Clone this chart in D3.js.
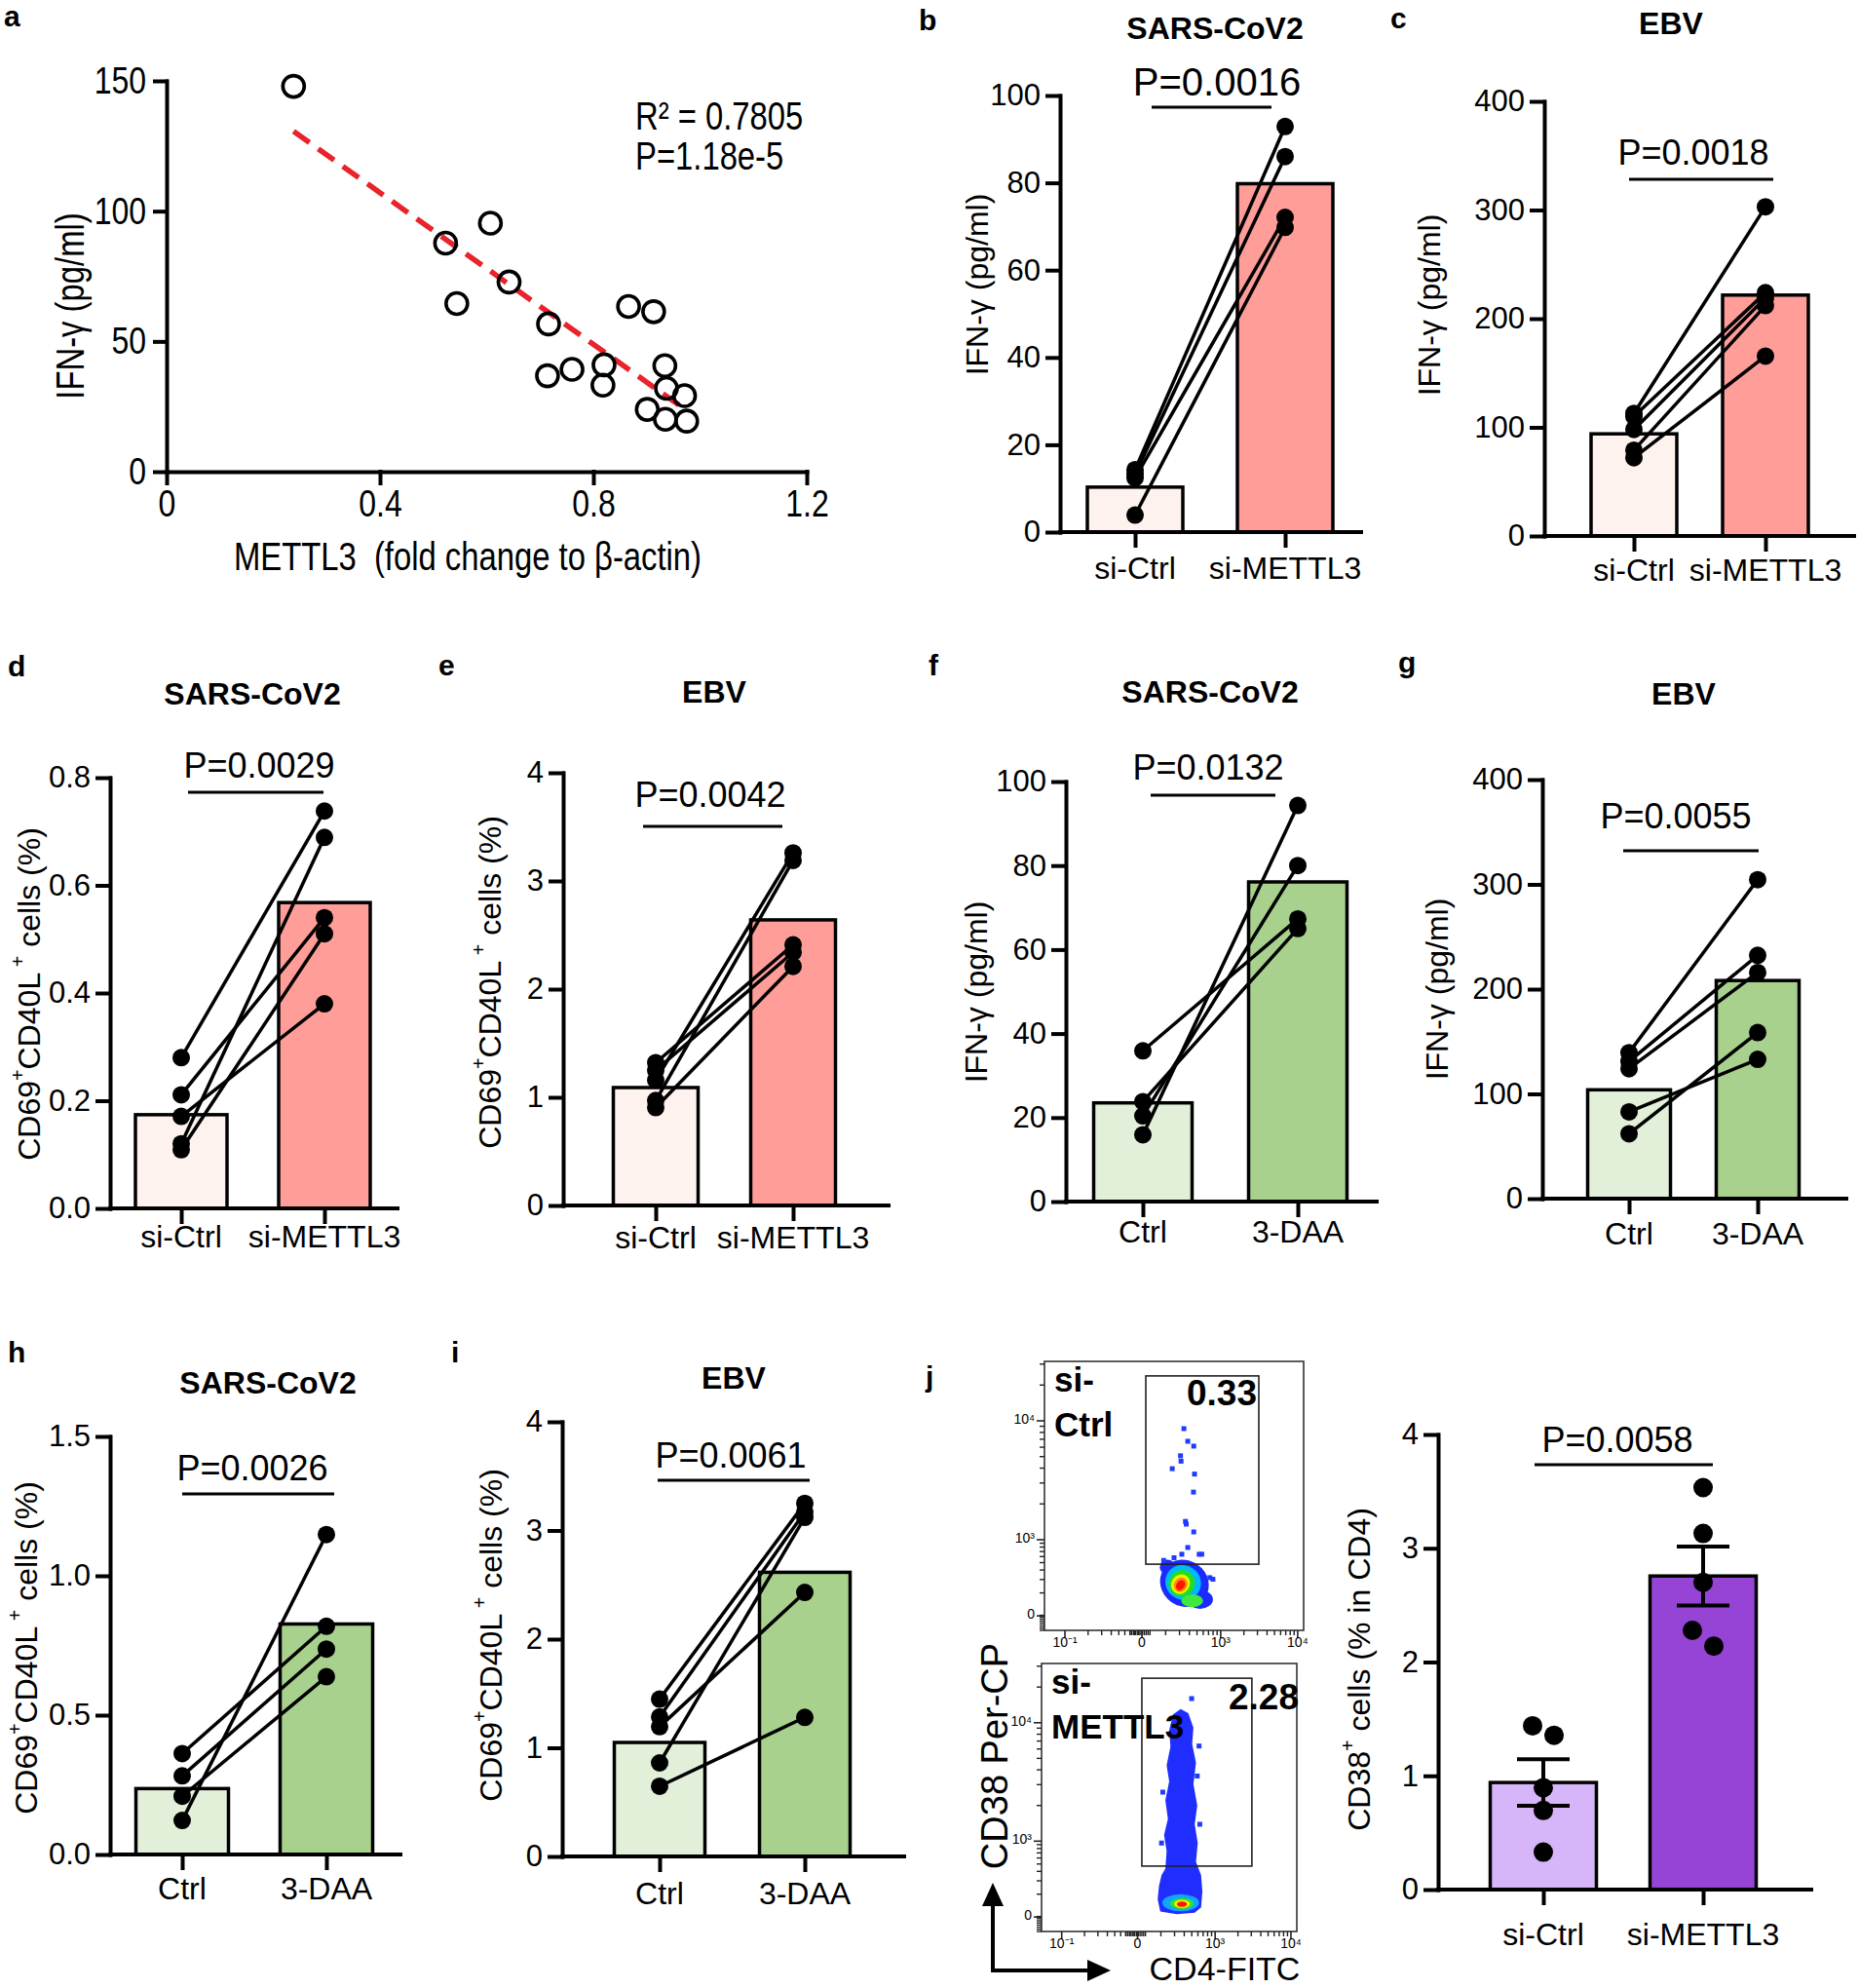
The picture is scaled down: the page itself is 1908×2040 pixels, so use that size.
<!DOCTYPE html>
<html>
<head>
<meta charset="utf-8">
<script src="https://cdn.jsdelivr.net/npm/d3@7"></script>
<style>
body { margin: 0; background: #fff; }
svg text { font-family: "Liberation Sans", Arial, Helvetica, sans-serif; fill: #000; }
</style>
</head>
<body>
<svg id="fig" width="1908" height="2040"></svg>
<script>
// ---------- data ----------
// a: scatter METTL3 vs IFN-g
var aMettl3 = [0.238, 0.523, 0.607, 0.544, 0.642, 0.716, 0.714, 0.76, 0.82, 0.818, 0.866, 0.913, 0.934, 0.937, 0.971, 0.901, 0.935, 0.975];
var aIfng   = [147.9, 87.7, 95.4, 64.5, 72.8, 56.7, 36.8, 39.3, 41, 33.2, 63.4, 61.4, 40.7, 32, 29.2, 23.9, 20.1, 19.4];
var aXTicks = [0, 0.4, 0.8, 1.2];
var aXLabels = ["0", "0.4", "0.8", "1.2"];
var aYTicks = [0, 50, 100, 150];

var siCats  = ["si-Ctrl", "si-METTL3"];
var daaCats = ["Ctrl", "3-DAA"];

// paired panels (ctrl[i] is joined to treated[i])
var bCtrl = [14.3, 13.3, 12.4, 3.9],          bMettl3 = [92.9, 86, 72.1, 69.8],          bBars = [10.3, 79.8];
var cCtrl = [112.8, 110, 98, 79, 72],         cMettl3 = [303, 224, 219, 212, 165.5],     cBars = [94, 221.7];
var dCtrl = [0.28, 0.211, 0.171, 0.12, 0.109], dMettl3 = [0.738, 0.54, 0.38, 0.689, 0.51], dBars = [0.174, 0.568];
var eCtrl = [1.32, 1.25, 1.16, 0.97, 0.905],  eMettl3 = [2.41, 2.34, 3.26, 3.19, 2.21],  eBars = [1.09, 2.64];
var fCtrl = [35.9, 23.8, 20.4, 15.9],         fDaa = [67.3, 65, 80, 94.3],               fBars = [23.5, 76.1];
var gCtrl = [139.4, 131, 124, 82.9, 61.9],    gDaa = [304.5, 232.3, 215.9, 133, 158.5],  gBars = [103.9, 208.2];
var hCtrl = [0.362, 0.282, 0.209, 0.122],     hDaa = [0.819, 0.737, 0.638, 1.148],       hBars = [0.2365, 0.827];
var iCtrl = [1.448, 1.284, 1.194, 0.861, 0.646], iDaa = [3.25, 3.17, 2.43, 3.12, 1.28], iBars = [1.049, 2.615];

// j: CD38+ bars with SEM
var jCtrl = [1.44, 1.356, 0.896, 0.695, 0.329], jMettl3 = [3.533, 3.13, 2.70, 2.278, 2.14];
var jJitCtrl = [-1, 1, 0, 0, 0], jJitMettl3 = [0, 0, 0, -1, 1];
var jBars = [0.941, 2.756], jSem = [0.205, 0.26];

var ticks100 = [0, 20, 40, 60, 80, 100];
var ticks400 = [0, 100, 200, 300, 400];
var ticks08  = [0, 0.2, 0.4, 0.6, 0.8];
var ticks4   = [0, 1, 2, 3, 4];
var ticks15  = [0, 0.5, 1.0, 1.5];

// j flow plots (channel units 0-1 of the display)
var flowXTicks = [0.079, 0.376, 0.68, 0.977], flowXLabels = ["10\u207B\u00B9", "0", "10\u00B3", "10\u2074"];
var flowYTicks = [0.054, 0.337, 0.779],       flowYLabels = ["0", "10\u00B3", "10\u2074"];
var ctrlGate = [0.391, 0.246, 0.827, 0.946], mettlGate = [0.393, 0.244, 0.824, 0.945];
var ctrlEvents = [[0.538,0.75],[0.553,0.703],[0.576,0.685],[0.525,0.649],[0.527,0.629],[0.493,0.601],[0.579,0.581],
  [0.575,0.514],[0.544,0.405],[0.547,0.395],[0.576,0.366],[0.553,0.308],[0.53,0.283],[0.597,0.283],[0.607,0.283],
  [0.638,0.196],[0.65,0.19],[0.46,0.26],[0.5,0.27]];
// density levels: cx, cy, rx, ry, angle, colour
var ctrlDensity = [
  [0.54, 0.175, 0.097, 0.085, 35, "#1b2bff"],
  [0.475, 0.235, 0.03, 0.028, 0, "#1b2bff"],
  [0.6, 0.115, 0.05, 0.035, 0, "#1b2bff"],
  [0.535, 0.178, 0.07, 0.064, 35, "#00b8ff"],
  [0.57, 0.11, 0.042, 0.024, 0, "#3ee83e"],
  [0.53, 0.175, 0.05, 0.05, 35, "#22dd22"],
  [0.525, 0.172, 0.035, 0.038, 35, "#f2f200"],
  [0.525, 0.17, 0.025, 0.028, 35, "#ff8a00"],
  [0.525, 0.168, 0.016, 0.02, 35, "#ff1400"]];
var mettlColumn = [[0.465,0.075],[0.455,0.12],[0.46,0.17],[0.47,0.21],[0.485,0.235],[0.49,0.30],[0.48,0.36],[0.495,0.42],
  [0.485,0.49],[0.5,0.56],[0.49,0.62],[0.505,0.69],[0.5,0.75],[0.515,0.81],[0.545,0.83],[0.575,0.815],[0.595,0.76],
  [0.59,0.70],[0.605,0.63],[0.595,0.55],[0.61,0.47],[0.6,0.40],[0.612,0.33],[0.605,0.26],[0.625,0.21],[0.63,0.15],
  [0.625,0.09],[0.6,0.07],[0.53,0.065]];
var mettlEvents = [[0.588,0.869],[0.617,0.692],[0.47,0.33],[0.62,0.4],[0.475,0.52],[0.61,0.58]];
var mettlDensity = [
  [0.545, 0.107, 0.072, 0.032, 0, "#12a4ff"],
  [0.55, 0.104, 0.046, 0.021, 0, "#2fe02f"],
  [0.55, 0.103, 0.031, 0.015, 0, "#f2f200"],
  [0.55, 0.102, 0.02, 0.01, 0, "#ff1400"]];

// ---------- drawing ----------
var FONT = '"Liberation Sans", Arial, Helvetica, sans-serif';
var PINK = ["#fdf2ee", "#ff9d99"], GREEN = ["#e2efd9", "#a9d18e"], PURPLE = ["#d6b5f8", "#9544d6"];

var svg = d3.select("#fig");
svg.append("rect").attr("width", 1908).attr("height", 2040).attr("fill", "#fff");

function styleAxis(sel, fs) {
  sel.selectAll("path, line").attr("stroke", "#000").attr("stroke-width", 4).attr("stroke-linecap", "square");
  sel.selectAll("text").attr("font-size", fs).attr("fill", "#000").style("font-family", FONT);
}

// squeeze text horizontally (the scatter panel uses a narrow face)
function narrow(sel, f) {
  sel.each(function() {
    var len = this.getComputedTextLength();
    d3.select(this).attr("textLength", len * f).attr("lengthAdjust", "spacingAndGlyphs");
  });
}

function yLabel(g, segs, x, y, fs) {
  var t = g.append("text")
    .attr("transform", "translate(" + x + "," + y + ") rotate(-90)")
    .attr("text-anchor", "middle").attr("dominant-baseline", "central")
    .attr("font-size", fs).style("white-space", "pre");
  var prevSup = false;
  segs.forEach(function(s) {
    var ts = t.append("tspan").text(s[0]);
    if (s[1]) { ts.attr("font-size", fs * 0.62).attr("dy", -fs * 0.36); prevSup = true; }
    else if (prevSup) { ts.attr("dy", fs * 0.36); prevSup = false; }
  });
  return t;
}

// panel letters
[["a", 4, 27], ["b", 943, 31], ["c", 1427, 29], ["d", 8, 694], ["e", 450, 693], ["f", 953, 693],
 ["g", 1435, 690], ["h", 8, 1398], ["i", 463, 1398], ["j", 950, 1423]].forEach(function(l) {
  svg.append("text").attr("x", l[1]).attr("y", l[2]).attr("font-size", 30).attr("font-weight", "bold").text(l[0]);
});

// ---- panel a ----
var ga = svg.append("g");
var ax = d3.scaleLinear().domain([0, 1.2]).range([171, 828]);
var ay = d3.scaleLinear().domain([0, 150]).range([484, 83]);

var mx = d3.mean(aMettl3), my = d3.mean(aIfng);
var sxy = d3.sum(aMettl3, function(v, i) { return (v - mx) * (aIfng[i] - my); });
var sxx = d3.sum(aMettl3, function(v) { return (v - mx) * (v - mx); });
var slope = sxy / sxx, icpt = my - slope * mx;
var xr = d3.extent(aMettl3);

ga.append("g").attr("transform", "translate(171,0)")
  .call(d3.axisLeft(ay).tickValues(aYTicks).tickSize(12).tickSizeOuter(0).tickPadding(9))
  .call(styleAxis, 39);
ga.append("g").attr("transform", "translate(0,484)")
  .call(d3.axisBottom(ax).tickValues(aXTicks).tickFormat(function(d, i) { return aXLabels[i]; })
    .tickSize(12).tickSizeOuter(0).tickPadding(6))
  .call(styleAxis, 39);

ga.append("line")
  .attr("x1", ax(xr[0])).attr("y1", ay(icpt + slope * xr[0]))
  .attr("x2", ax(xr[1])).attr("y2", ay(icpt + slope * xr[1]))
  .attr("stroke", "#e8232b").attr("stroke-width", 5.5).attr("stroke-dasharray", "20,11");

ga.selectAll(".pt").data(aMettl3).enter().append("circle")
  .attr("cx", function(d) { return ax(d); })
  .attr("cy", function(d, i) { return ay(aIfng[i]); })
  .attr("r", 11).attr("fill", "none").attr("stroke", "#000").attr("stroke-width", 3.6);

ga.append("text").attr("x", 652).attr("y", 133).attr("font-size", 40).text("R\u00B2 = 0.7805");
ga.append("text").attr("x", 652).attr("y", 174).attr("font-size", 40).text("P=1.18e-5");
ga.append("text").attr("x", 480).attr("y", 585).attr("text-anchor", "middle").attr("font-size", 40)
  .style("white-space", "pre").text("METTL3  (fold change to \u03B2-actin)");
yLabel(ga, [["IFN-\u03B3 (pg/ml)", 0]], 72, 314, 40);
ga.selectAll("text").call(narrow, 0.82);

// ---- paired bar panels ----
var IFN = [["IFN-\u03B3 (pg/ml)", 0]];
var CD69 = [["CD69", 0], ["+", 1], ["CD40L", 0], [" +", 1], [" cells (%)", 0]];
var CD38 = [["CD38", 0], ["+", 1], [" cells (% in CD4)", 0]];

var panels = [
  {title: "SARS-CoV2", tx: 1247, ty: 40, cats: siCats, ctrl: bCtrl, trt: bMettl3, bars: bBars, fills: PINK, ticks: ticks100, fmt: d3.format("d"),
   yx: 1088, y0: 546, yTop: 98, xEnd: 1397, cx: [1165, 1319], barW: 98, ylab: IFN, ylx: 1003, yly: 292,
   p: "P=0.0016", pfs: 40, ptx: 1249, pty: 98, px: [1182, 1305], py: 110, catY: 594},
  {title: "EBV", tx: 1715, ty: 35, cats: siCats, ctrl: cCtrl, trt: cMettl3, bars: cBars, fills: PINK, ticks: ticks400, fmt: d3.format("d"),
   yx: 1585, y0: 550, yTop: 104, xEnd: 1903, cx: [1677, 1812], barW: 88, ylab: IFN, ylx: 1467, yly: 313,
   p: "P=0.0018", pfs: 36, ptx: 1738, pty: 169, px: [1672, 1820], py: 184, catY: 596},
  {title: "SARS-CoV2", tx: 259, ty: 723, cats: siCats, ctrl: dCtrl, trt: dMettl3, bars: dBars, fills: PINK, ticks: ticks08, fmt: d3.format(".1f"),
   yx: 113, y0: 1240, yTop: 798, xEnd: 408, cx: [186, 333], barW: 94, ylab: CD69, ylx: 30, yly: 1020,
   p: "P=0.0029", pfs: 36, ptx: 266, pty: 798, px: [193, 332], py: 813, catY: 1280},
  {title: "EBV", tx: 733, ty: 721, cats: siCats, ctrl: eCtrl, trt: eMettl3, bars: eBars, fills: PINK, ticks: ticks4, fmt: d3.format("d"),
   yx: 578, y0: 1237, yTop: 793, xEnd: 912, cx: [673, 814], barW: 87, ylab: CD69, ylx: 503, yly: 1008,
   p: "P=0.0042", pfs: 36, ptx: 729, pty: 828, px: [660, 803], py: 848, catY: 1281},
  {title: "SARS-CoV2", tx: 1242, ty: 721, cats: daaCats, ctrl: fCtrl, trt: fDaa, bars: fBars, fills: GREEN, ticks: ticks100, fmt: d3.format("d"),
   yx: 1094, y0: 1233, yTop: 802, xEnd: 1413, cx: [1173, 1332], barW: 101, ylab: IFN, ylx: 1002, yly: 1018,
   p: "P=0.0132", pfs: 36, ptx: 1240, pty: 800, px: [1181, 1309], py: 816, catY: 1275},
  {title: "EBV", tx: 1728, ty: 723, cats: daaCats, ctrl: gCtrl, trt: gDaa, bars: gBars, fills: GREEN, ticks: ticks400, fmt: d3.format("d"),
   yx: 1583, y0: 1230, yTop: 800, xEnd: 1895, cx: [1672, 1804], barW: 85, ylab: IFN, ylx: 1475, yly: 1015,
   p: "P=0.0055", pfs: 36, ptx: 1720, pty: 850, px: [1666, 1805], py: 873, catY: 1277},
  {title: "SARS-CoV2", tx: 275, ty: 1430, cats: daaCats, ctrl: hCtrl, trt: hDaa, bars: hBars, fills: GREEN, ticks: ticks15, fmt: d3.format(".1f"),
   yx: 113, y0: 1903, yTop: 1474, xEnd: 411, cx: [187, 335], barW: 95, ylab: CD69, ylx: 27, yly: 1691,
   p: "P=0.0026", pfs: 36, ptx: 259, pty: 1519, px: [187, 343], py: 1533, catY: 1949},
  {title: "EBV", tx: 753, ty: 1425, cats: daaCats, ctrl: iCtrl, trt: iDaa, bars: iBars, fills: GREEN, ticks: ticks4, fmt: d3.format("d"),
   yx: 577, y0: 1905, yTop: 1459, xEnd: 928, cx: [677, 826], barW: 93, ylab: CD69, ylx: 504, yly: 1678,
   p: "P=0.0061", pfs: 36, ptx: 750, pty: 1506, px: [675, 831], py: 1519, catY: 1954},
  {title: null, cats: siCats, ctrl: jCtrl, trt: jMettl3, bars: jBars, fills: PURPLE, ticks: ticks4, fmt: d3.format("d"),
   yx: 1476, y0: 1939, yTop: 1472, xEnd: 1859, cx: [1584, 1748], barW: 109, ylab: CD38, ylx: 1395, yly: 1713,
   p: "P=0.0058", pfs: 36, ptx: 1660, pty: 1490, px: [1575, 1758], py: 1503, catY: 1996,
   jitter: [jJitCtrl, jJitMettl3], sem: jSem}
];

panels.forEach(function(p) {
  var g = svg.append("g");
  var x = d3.scalePoint().domain(p.cats).range(p.cx);
  var y = d3.scaleLinear().domain([p.ticks[0], p.ticks[p.ticks.length - 1]]).range([p.y0, p.yTop]);

  g.selectAll(".bar").data(p.bars).enter().append("rect")
    .attr("x", function(d, i) { return x(p.cats[i]) - p.barW / 2; })
    .attr("y", function(d) { return y(d); })
    .attr("width", p.barW)
    .attr("height", function(d) { return p.y0 - y(d); })
    .attr("fill", function(d, i) { return p.fills[i]; })
    .attr("stroke", "#000").attr("stroke-width", 3.5);

  if (!p.jitter) {
    // paired lines and dots
    g.selectAll(".pair").data(p.ctrl).enter().append("line")
      .attr("x1", x(p.cats[0])).attr("y1", function(d) { return y(d); })
      .attr("x2", x(p.cats[1])).attr("y2", function(d, i) { return y(p.trt[i]); })
      .attr("stroke", "#000").attr("stroke-width", 3.5);
    [p.ctrl, p.trt].forEach(function(vals, k) {
      g.selectAll(".dot" + k).data(vals).enter().append("circle")
        .attr("cx", x(p.cats[k])).attr("cy", function(d) { return y(d); })
        .attr("r", 9).attr("fill", "#000");
    });
  } else {
    [p.ctrl, p.trt].forEach(function(vals, k) {
      g.selectAll(".dot" + k).data(vals).enter().append("circle")
        .attr("cx", function(d, i) { return x(p.cats[k]) + p.jitter[k][i] * 11; })
        .attr("cy", function(d) { return y(d); })
        .attr("r", 10).attr("fill", "#000");
    });
    p.bars.forEach(function(m, k) {
      var cxk = x(p.cats[k]), s = p.sem[k];
      g.append("line").attr("x1", cxk).attr("x2", cxk).attr("y1", y(m - s)).attr("y2", y(m + s))
        .attr("stroke", "#000").attr("stroke-width", 4);
      [m - s, m + s].forEach(function(v) {
        g.append("line").attr("x1", cxk - 27).attr("x2", cxk + 27).attr("y1", y(v)).attr("y2", y(v))
          .attr("stroke", "#000").attr("stroke-width", 4);
      });
    });
  }

  // axes
  g.append("g").attr("transform", "translate(" + p.yx + ",0)")
    .call(d3.axisLeft(y).tickValues(p.ticks).tickFormat(p.fmt).tickSize(13).tickSizeOuter(0).tickPadding(7))
    .call(styleAxis, 31);
  g.append("line").attr("x1", p.yx).attr("x2", p.xEnd).attr("y1", p.y0).attr("y2", p.y0)
    .attr("stroke", "#000").attr("stroke-width", 4).attr("stroke-linecap", "square");
  var xa = g.append("g").attr("transform", "translate(0," + p.y0 + ")")
    .call(d3.axisBottom(x).tickSize(14).tickFormat(""))
    .call(styleAxis, 31);
  xa.select(".domain").remove();
  g.selectAll(".cat").data(p.cats).enter().append("text")
    .attr("x", function(d) { return x(d); }).attr("y", p.catY)
    .attr("text-anchor", "middle").attr("font-size", 32).text(function(d) { return d; });

  yLabel(g, p.ylab, p.ylx, p.yly, 32);

  if (p.title) g.append("text").attr("x", p.tx).attr("y", p.ty).attr("text-anchor", "middle")
    .attr("font-size", 32).attr("font-weight", "bold").text(p.title);
  g.append("text").attr("x", p.ptx).attr("y", p.pty).attr("text-anchor", "middle")
    .attr("font-size", p.pfs).text(p.p);
  g.append("line").attr("x1", p.px[0]).attr("x2", p.px[1]).attr("y1", p.py).attr("y2", p.py)
    .attr("stroke", "#000").attr("stroke-width", 3);
});

// ---- panel j flow plots ----
function flowPlot(b, gate, tag, num, density, column, events) {
  var g = svg.append("g");
  var fx = d3.scaleLinear().domain([0, 1]).range([b.x0, b.x1]);
  var fy = d3.scaleLinear().domain([0, 1]).range([b.y1, b.y0]);
  var w = b.x1 - b.x0, h = b.y1 - b.y0;

  if (column) {
    g.append("path")
      .attr("d", d3.line().x(function(d) { return fx(d[0]); }).y(function(d) { return fy(d[1]); })
        .curve(d3.curveLinearClosed)(column))
      .attr("fill", "#1f2eff");
  }
  g.selectAll(".lvl").data(density).enter().append("ellipse")
    .attr("cx", function(d) { return fx(d[0]); }).attr("cy", function(d) { return fy(d[1]); })
    .attr("rx", function(d) { return d[2] * w; }).attr("ry", function(d) { return d[3] * h; })
    .attr("transform", function(d) { return "rotate(" + d[4] + "," + fx(d[0]) + "," + fy(d[1]) + ")"; })
    .attr("fill", function(d) { return d[5]; });
  g.selectAll(".ev").data(events).enter().append("rect")
    .attr("x", function(d) { return fx(d[0]) - 2.5; }).attr("y", function(d) { return fy(d[1]) - 2.5; })
    .attr("width", 5).attr("height", 5).attr("fill", "#1f3bff");

  g.append("rect").attr("x", fx(gate[0])).attr("y", fy(gate[3]))
    .attr("width", fx(gate[2]) - fx(gate[0])).attr("height", fy(gate[1]) - fy(gate[3]))
    .attr("fill", "none").attr("stroke", "#222").attr("stroke-width", 1.6);
  g.append("rect").attr("x", b.x0).attr("y", b.y0).attr("width", w).attr("height", h)
    .attr("fill", "none").attr("stroke", "#333").attr("stroke-width", 1.6);

  // ticks
  var minorX = [], minorY = [];
  [[0.079, 0.297], [0.376, 0.304], [0.68, 0.297]].forEach(function(s) {
    d3.range(2, 10).forEach(function(k) { minorX.push(s[0] + Math.log10(k) * s[1]); });
  });
  d3.range(0.33, 0.41, 0.007).forEach(function(v) { minorX.push(v); });
  [[0.054, 0.283], [0.337, 0.442], [0.779, 0.442]].forEach(function(s) {
    d3.range(2, 10).forEach(function(k) { var v = s[0] + Math.log10(k) * s[1]; if (v < 1) minorY.push(v); });
  });
  d3.range(0.0, 0.06, 0.008).forEach(function(v) { minorY.push(v); });

  g.selectAll(".mx").data(minorX).enter().append("line")
    .attr("x1", function(d) { return fx(d); }).attr("x2", function(d) { return fx(d); })
    .attr("y1", b.y1).attr("y2", b.y1 + 5).attr("stroke", "#222").attr("stroke-width", 1.4);
  g.selectAll(".Mx").data(flowXTicks).enter().append("line")
    .attr("x1", function(d) { return fx(d); }).attr("x2", function(d) { return fx(d); })
    .attr("y1", b.y1).attr("y2", b.y1 + 8).attr("stroke", "#222").attr("stroke-width", 1.6);
  g.selectAll(".my").data(minorY).enter().append("line")
    .attr("y1", function(d) { return fy(d); }).attr("y2", function(d) { return fy(d); })
    .attr("x1", b.x0).attr("x2", b.x0 - 5).attr("stroke", "#222").attr("stroke-width", 1.4);
  g.selectAll(".My").data(flowYTicks).enter().append("line")
    .attr("y1", function(d) { return fy(d); }).attr("y2", function(d) { return fy(d); })
    .attr("x1", b.x0).attr("x2", b.x0 - 8).attr("stroke", "#222").attr("stroke-width", 1.6);

  g.selectAll(".xl").data(flowXTicks).enter().append("text")
    .attr("x", function(d) { return fx(d); }).attr("y", b.y1 + 17)
    .attr("text-anchor", "middle").attr("font-size", 14).attr("fill", "#222")
    .text(function(d, i) { return flowXLabels[i]; });
  g.selectAll(".yl").data(flowYTicks).enter().append("text")
    .attr("x", b.x0 - 10).attr("y", function(d) { return fy(d) + 3; })
    .attr("text-anchor", "end").attr("font-size", 14).attr("fill", "#222")
    .text(function(d, i) { return flowYLabels[i]; });

  g.append("text").attr("x", b.x0 + 10).attr("y", b.y0 + 31).attr("font-size", 35).attr("font-weight", "bold").text("si-");
  g.append("text").attr("x", b.x0 + 10).attr("y", b.y0 + 77).attr("font-size", 35).attr("font-weight", "bold").text(tag);
  g.append("text").attr("x", num[0]).attr("y", num[1]).attr("text-anchor", "end")
    .attr("font-size", 37).attr("font-weight", "bold").text(num[2]);
}

flowPlot({x0: 1072, x1: 1338, y0: 1397, y1: 1673}, ctrlGate, "Ctrl", [1290, 1442, "0.33"], ctrlDensity, null, ctrlEvents);
flowPlot({x0: 1069, x1: 1331, y0: 1707, y1: 1982}, mettlGate, "METTL3", [1333, 1754, "2.28"], mettlDensity, mettlColumn, mettlEvents);

// axis arrows for the flow plots
var ar = svg.append("g");
ar.append("path").attr("d", "M1019,1950 V2022 H1122").attr("fill", "none").attr("stroke", "#000").attr("stroke-width", 4);
ar.append("path").attr("d", "M1008,1956 L1019,1932 L1030,1956 Z").attr("fill", "#000");
ar.append("path").attr("d", "M1116,2011 L1140,2022 L1116,2033 Z").attr("fill", "#000");
yLabel(ar, [["CD38 Per-CP", 0]], 1021, 1802, 38);
ar.append("text").attr("x", 1257).attr("y", 2032).attr("text-anchor", "middle").attr("font-size", 34).text("CD4-FITC");
</script>
</body>
</html>
